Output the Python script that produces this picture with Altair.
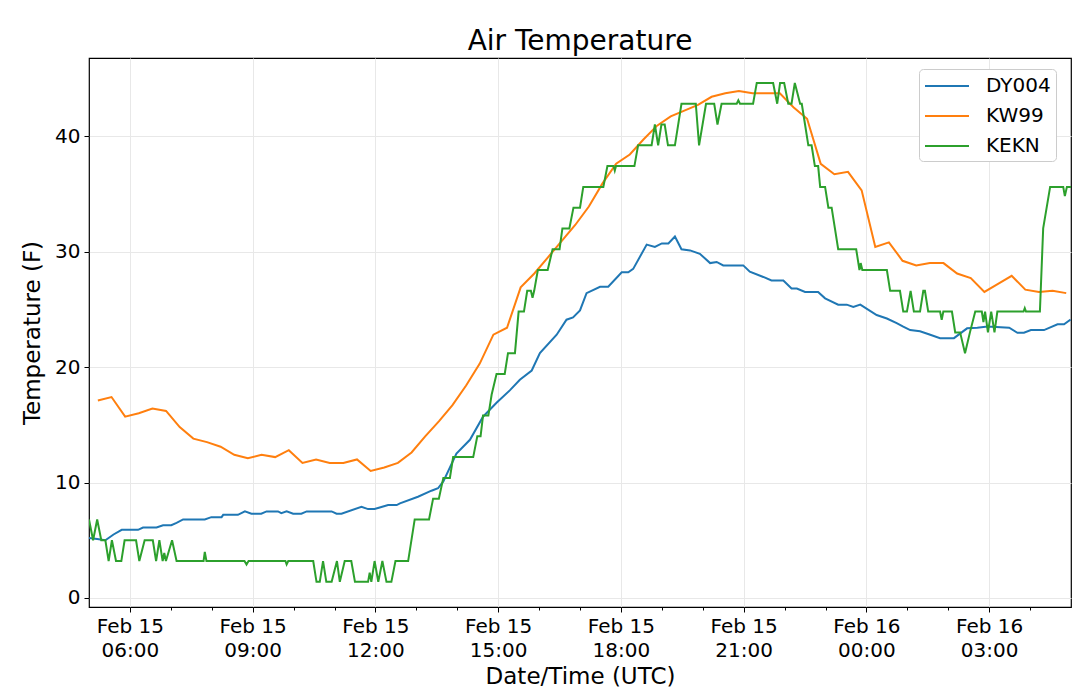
import altair as alt
import pandas as pd

stations = ["DY004", "KW99", "KEKN"]
colors = ["#1f77b4", "#ff7f0e", "#2ca02c"]

# hours after Feb 15 05:00 UTC
dy004_hours = [0.0, 0.2, 0.4, 0.6, 0.8, 1.2, 1.32, 1.65, 1.81, 2.01, 2.14, 2.3, 2.83, 2.99, 3.24,
               3.28, 3.64, 3.81, 3.97, 4.21, 4.34, 4.62, 4.7, 4.83, 4.99, 5.19, 5.32, 5.93, 6.05,
               6.17, 6.66, 6.82, 6.98, 7.31, 7.52, 7.6, 8.04, 8.37, 8.53, 8.66, 8.98, 9.31, 9.63,
               9.96, 10.29, 10.53, 10.82, 11.02, 11.43, 11.67, 11.83, 12.0, 12.16, 12.49, 12.69,
               13.02, 13.18, 13.3, 13.63, 13.83, 14.0, 14.16, 14.32, 14.48, 14.69, 14.93, 15.18,
               15.34, 15.5, 15.99, 16.15, 16.48, 16.68, 16.97, 17.17, 17.3, 17.5, 17.82, 17.99,
               18.31, 18.52, 18.68, 18.85, 19.25, 19.5, 19.74, 19.9, 20.07, 20.31, 20.56, 20.8,
               21.14, 21.46, 21.71, 21.96, 22.49, 22.69, 22.85, 23.02, 23.34, 23.67, 23.83, 23.99]
dy004_temp = [5.2, 5.1, 5.0, 5.5, 5.9, 5.9, 6.1, 6.1, 6.3, 6.3, 6.5, 6.8, 6.8, 7.0, 7.0,
              7.2, 7.2, 7.5, 7.3, 7.3, 7.5, 7.5, 7.35, 7.5, 7.3, 7.3, 7.5, 7.5, 7.3,
              7.3, 7.9, 7.7, 7.7, 8.05, 8.05, 8.2, 8.77, 9.29, 9.5, 10.1, 12.5, 13.7, 15.7,
              16.9, 18.0, 18.9, 19.7, 21.2, 22.8, 24.1, 24.3, 24.9, 26.4, 26.95, 26.95,
              28.2, 28.2, 28.5, 30.6, 30.4, 30.7, 30.7, 31.3, 30.2, 30.1, 29.8, 29.0,
              29.1, 28.8, 28.8, 28.25, 27.8, 27.5, 27.5, 26.8, 26.8, 26.5, 26.5, 25.95,
              25.4, 25.4, 25.2, 25.4, 24.5, 24.2, 23.8, 23.5, 23.2, 23.1, 22.8, 22.5,
              22.5, 23.35, 23.4, 23.5, 23.4, 22.97, 22.97, 23.2, 23.2, 23.7, 23.7, 24.1]

kw99_start = "2019-02-15 05:13"
kw99_temp = [17.1, 17.4, 15.7, 16.0, 16.4, 16.2, 14.8, 13.8, 13.5, 13.1,
             12.4, 12.1, 12.4, 12.2, 12.8, 11.7, 12.0, 11.7, 11.7, 12.0,
             11.0, 11.3, 11.7, 12.6, 14.0, 15.3, 16.7, 18.4, 20.3, 22.8,
             23.4, 26.9, 28.1, 29.5, 30.9, 32.3, 33.9, 35.9, 37.6, 38.4,
             39.7, 40.9, 41.7, 42.2, 42.7, 43.4, 43.7, 43.9, 43.7, 43.7,
             43.7, 42.5, 41.5, 37.6, 36.7, 36.9, 35.3, 30.4, 30.8, 29.2,
             28.8, 29.0, 29.0, 28.1, 27.7, 26.5, 27.2, 27.9, 26.7, 26.5,
             26.6, 26.4]

kekn_hours = [0.0, 0.1, 0.2, 0.3, 0.4, 0.48, 0.56, 0.66, 0.79, 0.87, 1.15, 1.23, 1.36, 1.56,
              1.64, 1.72, 1.8, 1.84, 1.88, 2.03, 2.14, 2.8, 2.83, 2.87, 3.8, 3.85, 3.9, 4.8,
              4.83, 4.87, 5.48, 5.56, 5.64, 5.72, 5.8, 5.93, 6.06, 6.13, 6.25, 6.41, 6.5,
              6.82, 6.86, 6.9, 6.98, 7.07, 7.17, 7.27, 7.39, 7.49, 7.8, 7.96, 8.31, 8.41,
              8.55, 8.66, 8.82, 8.9, 9.39, 9.49, 9.57, 9.63, 9.76, 9.84, 9.96, 10.16, 10.24,
              10.41, 10.5, 10.63, 10.71, 10.8, 10.84, 10.88, 10.97, 11.21, 11.33, 11.5, 11.57,
              11.74, 11.84, 12.0, 12.08, 12.57, 12.67, 12.82, 12.85, 12.88, 13.33, 13.42,
              13.75, 13.83, 13.91, 13.99, 14.07, 14.15, 14.32, 14.48, 14.83, 14.91, 15.08,
              15.28, 15.36, 15.46, 15.83, 15.87, 15.91, 16.23, 16.32, 16.72, 16.82, 16.89,
              16.99, 17.09, 17.17, 17.25, 17.38, 17.42, 17.5, 17.58, 17.66, 17.74, 17.82,
              17.87, 17.99, 18.07, 18.15, 18.23, 18.31, 18.75, 18.83, 18.86, 18.9, 19.5,
              19.58, 19.82, 19.9, 19.99, 20.08, 20.16, 20.31, 20.39, 20.43, 20.51, 20.8,
              20.84, 20.88, 21.09, 21.17, 21.29, 21.41, 21.53, 21.66, 21.82, 21.86, 21.9,
              21.97, 22.05, 22.13, 22.2, 22.84, 22.87, 22.9, 23.24, 23.32, 23.49, 23.81,
              23.85, 23.9, 24.0]
kekn_temp = [6.8, 5.0, 6.8, 5.0, 5.0, 3.2, 5.0, 3.2, 3.2, 5.0, 5.0, 3.2, 5.0, 5.0,
             3.2, 5.0, 3.2, 3.9, 3.2, 5.0, 3.2, 3.2, 4.0, 3.2, 3.2, 2.9, 3.2, 3.2,
             2.9, 3.2, 3.2, 1.4, 1.4, 3.2, 1.4, 1.4, 3.2, 1.4, 3.2, 3.2, 1.4,
             1.4, 2.2, 1.4, 3.2, 1.4, 3.2, 1.4, 1.4, 3.2, 3.2, 6.8, 6.8, 8.6,
             8.6, 10.4, 10.4, 12.2, 12.2, 14.0, 14.0, 15.8, 15.8, 17.6, 19.4, 19.4, 21.2,
             21.2, 24.8, 24.8, 26.6, 26.6, 26.0, 26.6, 28.4, 28.4, 30.2, 30.2, 32.0,
             32.0, 33.8, 33.8, 35.6, 35.6, 37.4, 37.4, 37.0, 37.4, 37.4, 39.2,
             39.2, 41.0, 39.2, 41.0, 41.0, 39.2, 39.2, 42.8, 42.8, 39.2, 42.8,
             42.8, 41.0, 42.8, 42.8, 43.1, 42.8, 42.8, 44.6, 44.6, 42.8, 44.6,
             44.6, 42.8, 42.8, 44.6, 42.8, 42.8, 41.0, 39.2, 39.2, 37.4, 37.4,
             35.6, 35.6, 33.8, 33.8, 32.0, 30.2, 30.2, 28.4, 29.0, 28.4, 28.4,
             26.6, 26.6, 24.8, 24.8, 26.6, 24.8, 24.8, 26.6, 26.6, 24.8, 24.8,
             24.1, 24.8, 24.8, 23.0, 23.0, 21.2, 23.0, 24.8, 24.8, 23.9, 24.8,
             23.0, 24.8, 23.0, 24.8, 24.8, 25.1, 24.8, 24.8, 32.0, 35.6, 35.6,
             34.8, 35.6, 35.6]

start = pd.Timestamp("2019-02-15 05:00", tz="UTC")


def iso(ts):
    return ts.strftime("%Y-%m-%dT%H:%M:%SZ")


def from_hours(hours):
    return [iso(start + pd.Timedelta(hours=h).round("s")) for h in hours]


kw99_times = [iso(t) for t in pd.date_range(kw99_start, periods=len(kw99_temp), freq="20min", tz="UTC")]

df = pd.concat([
    pd.DataFrame({"time": from_hours(dy004_hours), "temp": dy004_temp, "station": "DY004"}),
    pd.DataFrame({"time": kw99_times, "temp": kw99_temp, "station": "KW99"}),
    pd.DataFrame({"time": from_hours(kekn_hours), "temp": kekn_temp, "station": "KEKN"}),
])


def utc_dt(day, hour):
    return alt.DateTime(year=2019, month=2, date=day, hours=hour, utc=True)


x_domain = [utc_dt(15, 5), utc_dt(16, 5)]
major_ticks = [utc_dt(15 + h // 24, h % 24) for h in range(6, 29, 3)]
minor_ticks = [utc_dt(15 + h // 24, h % 24) for h in range(6, 29)]

lines = alt.Chart(df).mark_line(strokeWidth=2, clip=True).encode(
    x=alt.X("time:T", scale=alt.Scale(type="utc", domain=x_domain, nice=False),
            axis=alt.Axis(values=major_ticks, title="Date/Time (UTC)", grid=True,
                          labelExpr="[utcFormat(datum.value, '%b %d'), utcFormat(datum.value, '%H:%M')]",
                          labelLineHeight=24, labelPadding=4, tickSize=5, titlePadding=5)),
    y=alt.Y("temp:Q", scale=alt.Scale(domain=[-0.78, 46.76], nice=False, zero=False),
            axis=alt.Axis(values=[0, 10, 20, 30, 40], title="Temperature (F)", grid=True,
                          labelPadding=4, tickSize=5, titlePadding=10)),
    color=alt.Color("station:N", scale=alt.Scale(domain=stations, range=colors),
                    legend=alt.Legend(title=None, orient="none", legendX=830, legendY=11,
                                      symbolType="M-1,0H3", symbolSize=484, symbolStrokeWidth=2,
                                      labelFontSize=20, labelFont="DejaVu Sans", labelColor="black",
                                      fillColor="white", strokeColor="#cccccc", cornerRadius=4,
                                      padding=5, rowPadding=8, labelOffset=38)),
)

minor = alt.Chart(df).mark_point(opacity=0).encode(
    x=alt.X("time:T", scale=alt.Scale(type="utc", domain=x_domain, nice=False),
            axis=alt.Axis(values=minor_ticks, orient="bottom", labels=False, grid=False,
                          tickSize=3, title="")),
)

chart = (
    alt.layer(lines, minor)
    .resolve_scale(x="independent")
    .properties(
        width=982, height=549,
        title="Air Temperature",
        autosize=alt.AutoSizeParams(type="none"),
        padding={"left": 81, "top": 50, "right": 1, "bottom": 85},
    )
    .configure_view(stroke="black", strokeWidth=1.2)
    .configure_axis(labelFont="DejaVu Sans", titleFont="DejaVu Sans", labelFontSize=20,
                    titleFontSize=23, titleFontWeight="normal", labelColor="black",
                    titleColor="black", tickColor="black", gridColor="#e8e8e8", domain=False)
    .configure_title(font="DejaVu Sans", fontSize=28, fontWeight="normal", color="black",
                     baseline="alphabetic", offset=2)
)

chart.save("out.html", embed_options={"renderer": "svg", "actions": False})
